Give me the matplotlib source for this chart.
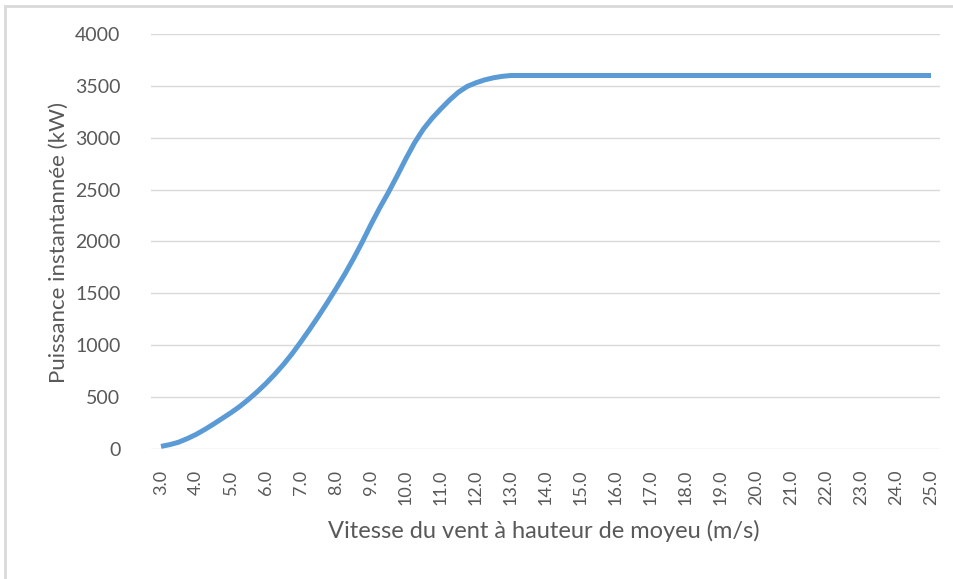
import numpy as np
import matplotlib
matplotlib.use("Agg")
from matplotlib import pyplot as plt
from matplotlib.patches import Rectangle

# vitesse du vent (m/s) et puissance (kW)
vitesse = [3.0, 3.25, 3.5, 3.75, 4.0, 4.25, 4.5, 4.75, 5.0, 5.25, 5.5, 5.75,
           6.0, 6.25, 6.5, 6.75, 7.0, 7.25, 7.5, 7.75, 8.0, 8.25, 8.5, 8.75,
           9.0, 9.25, 9.5, 9.75, 10.0, 10.25, 10.5, 10.75, 11.0, 11.25, 11.5, 11.75,
           12.0, 12.25, 12.5, 12.75, 13.0, 14.0, 15.0, 16.0, 17.0, 18.0, 19.0,
           20.0, 21.0, 22.0, 23.0, 24.0, 25.0]
puissance = [25, 42, 65, 100, 140, 188, 240, 295, 350, 410, 478, 552,
             632, 720, 815, 920, 1035, 1155, 1280, 1410, 1545, 1685, 1835, 1995,
             2165, 2325, 2475, 2635, 2800, 2955, 3085, 3190, 3280, 3365, 3440, 3495,
             3530, 3558, 3578, 3592, 3600, 3600, 3600, 3600, 3600, 3600, 3600,
             3600, 3600, 3600, 3600, 3600, 3600]
x_ticks = [3.0, 4.0, 5.0, 6.0, 7.0, 8.0, 9.0, 10.0, 11.0, 12.0, 13.0, 14.0, 15.0,
           16.0, 17.0, 18.0, 19.0, 20.0, 21.0, 22.0, 23.0, 24.0, 25.0]
y_ticks = [0, 500, 1000, 1500, 2000, 2500, 3000, 3500, 4000]

plt.rcParams["font.family"] = ["Lato", "DejaVu Sans"]
gris = "#595959"

fig = plt.figure(figsize=(9.54, 5.79), dpi=100)
ax = fig.add_axes([151 / 954, 1 - 449 / 579, (940 - 151) / 954, (449 - 34) / 579])

ax.plot(vitesse, puissance, color="#5B9BD5", lw=3.6, solid_capstyle="butt",
        solid_joinstyle="round", zorder=3)

ax.set_xlim(3 - 10 / 35, 25 + 9 / 35)
ax.set_ylim(0, 4000)
ax.set_xticks(x_ticks)
ax.set_xticklabels([f"{v:.1f}" for v in x_ticks], rotation=90, fontsize=13, color=gris)
ax.set_yticks(y_ticks)
ax.set_yticklabels([str(v) for v in y_ticks], fontsize=14, color=gris)
ax.tick_params(axis="both", length=0)
ax.tick_params(axis="y", pad=22)
ax.tick_params(axis="x", pad=15)
ax.grid(axis="y", color="#d9d9d9", lw=1)
ax.set_axisbelow(True)
for s in ax.spines.values():
    s.set_visible(False)

ax.set_xlabel("Vitesse du vent à hauteur de moyeu (m/s)", fontsize=17, color=gris)
ax.set_ylabel("Puissance instantannée (kW)", fontsize=16, color=gris)
ax.xaxis.set_label_coords(0.498, -0.172)
ax.yaxis.set_label_coords(-0.104, 0.497)

# cadre gris (haut et gauche visibles)
fig.patches.append(Rectangle((5 / 954, -0.1), 2, 1.1 - 6 / 579, transform=fig.transFigure,
                             fill=False, edgecolor="#d9d9d9", lw=2))

fig.savefig("out.png", dpi=100)
